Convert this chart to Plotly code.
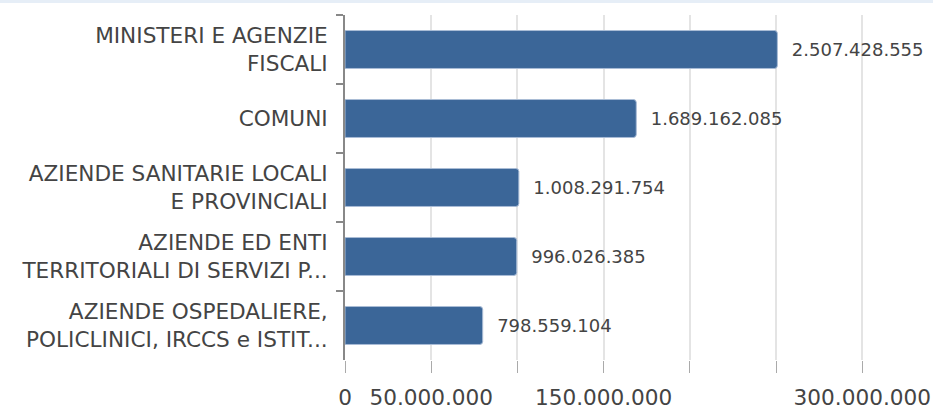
import plotly.graph_objects as go

categories = [
    "MINISTERI E AGENZIE<br>FISCALI",
    "COMUNI",
    "AZIENDE SANITARIE LOCALI<br>E PROVINCIALI",
    "AZIENDE ED ENTI<br>TERRITORIALI DI SERVIZI P...",
    "AZIENDE OSPEDALIERE,<br>POLICLINICI, IRCCS e ISTIT...",
]
values = [2507428555, 1689162085, 1008291754, 996026385, 798559104]

x_tickvals = [0, 500000000, 1000000000, 1500000000, 2000000000, 2500000000, 3000000000]
x_ticktext = ["0", "50.000.000", "", "150.000.000", "", "", "300.000.000"]


def fmt(v):
    return f"{v:,}".replace(",", ".")


labels = ["\u00a0\u00a0" + fmt(v) for v in values]

fig = go.Figure(
    go.Bar(
        x=values,
        y=categories,
        orientation="h",
        text=labels,
        textposition="outside",
        cliponaxis=False,
        textfont=dict(size=18, color="#444444", family="DejaVu Sans"),
        marker=dict(color="#3b6698", line=dict(color="#a9bcd6", width=1), cornerradius=3),
        hoverinfo="skip",
    )
)

fig.update_layout(
    width=933,
    height=409,
    margin=dict(l=345, r=0, t=15, b=49, autoexpand=False),
    paper_bgcolor="white",
    plot_bgcolor="white",
    bargap=0.45,
    showlegend=False,
    font=dict(family="DejaVu Sans", color="#444444"),
    shapes=[
        dict(
            type="rect", xref="paper", yref="paper",
            x0=-1, x1=1.1, y0=1 + 12 / 345, y1=1 + 15 / 345,
            fillcolor="#e6eef7", line=dict(width=0), layer="above",
        )
    ],
)

fig.update_xaxes(
    range=[0, 3.41e9],
    automargin=False,
    tickvals=x_tickvals,
    ticktext=x_ticktext,
    showgrid=True,
    gridcolor="#e4e4e4",
    gridwidth=2,
    zeroline=False,
    showline=False,
    ticks="outside",
    ticklen=12,
    tickcolor="#aaaaaa",
    tickwidth=1,
    ticklabelstandoff=6,
    tickfont=dict(size=21.6, color="#444444", family="DejaVu Sans"),
)

fig.update_yaxes(
    autorange="reversed",
    automargin=False,
    showline=True,
    linecolor="#888888",
    linewidth=2,
    ticks="outside",
    tickson="boundaries",
    ticklen=7,
    tickcolor="#888888",
    tickwidth=2,
    showgrid=False,
    ticklabelstandoff=11,
    tickfont=dict(size=21.6, color="#444444", family="DejaVu Sans"),
)

fig.write_html(
    "out.html",
    config={"displayModeBar": False},
    post_script="document.body.style.margin='0';document.body.style.overflow='hidden';",
)
